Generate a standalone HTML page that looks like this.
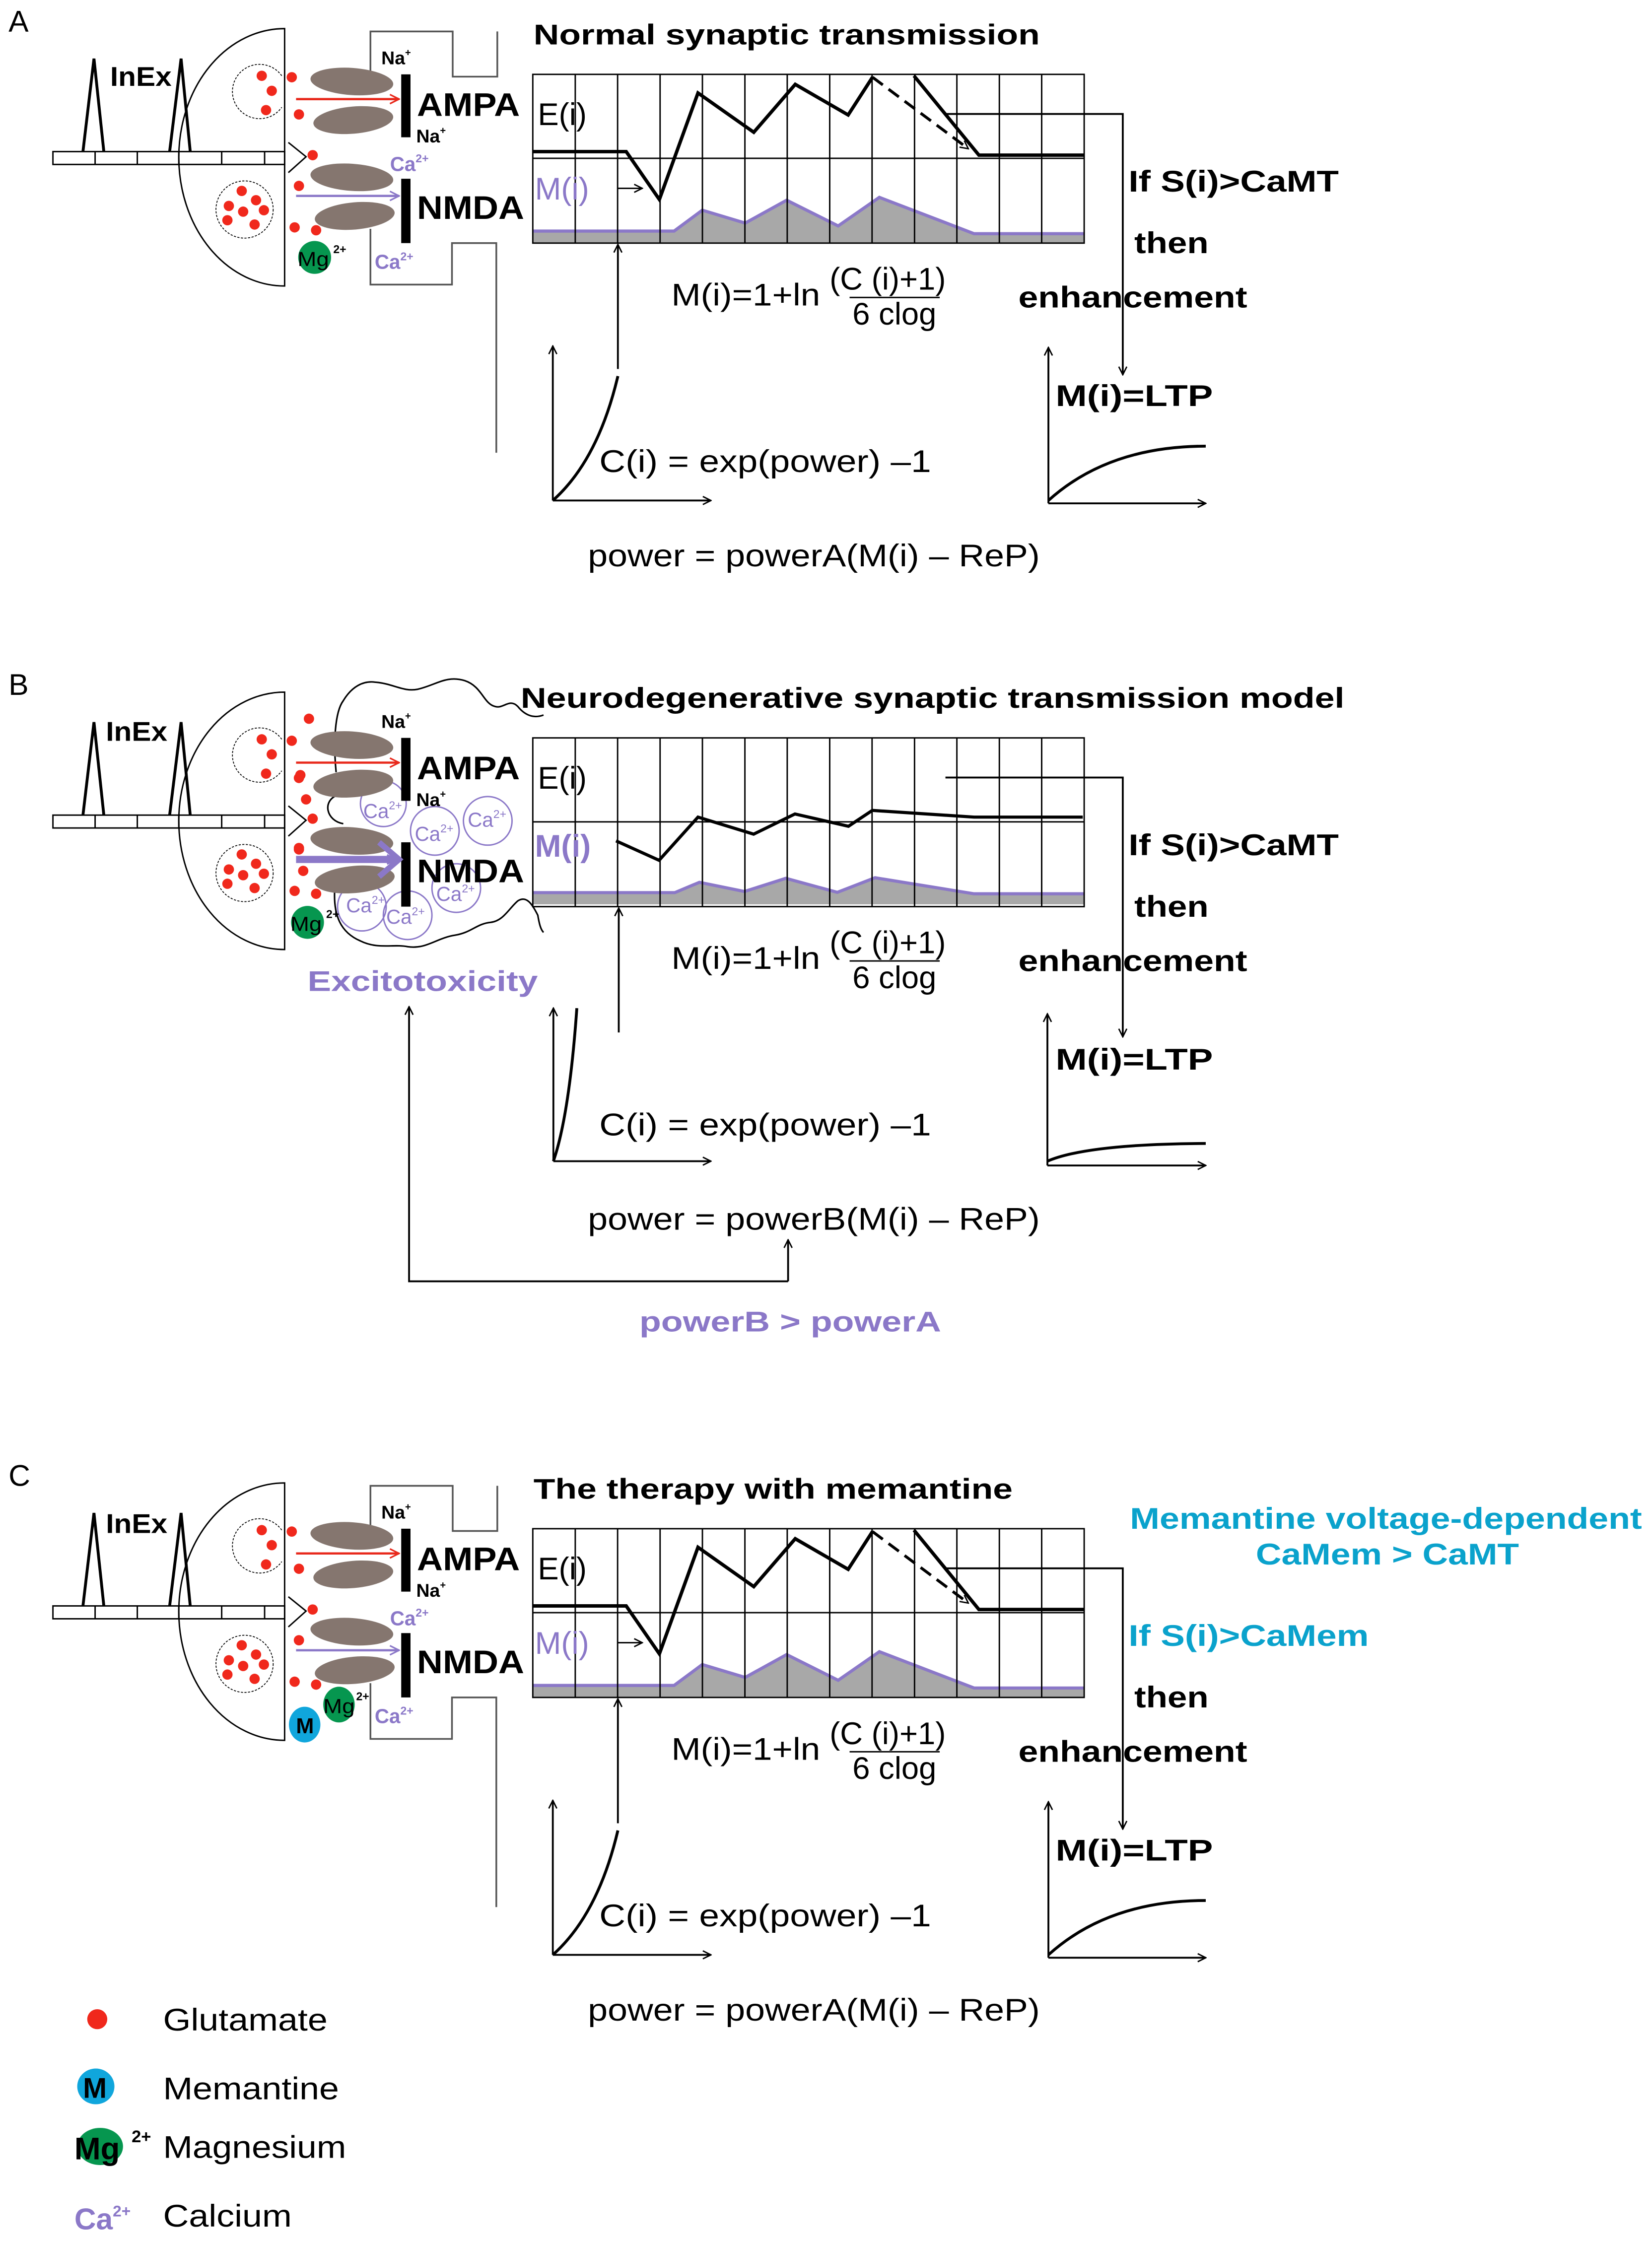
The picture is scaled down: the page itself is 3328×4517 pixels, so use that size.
<!DOCTYPE html>
<html><head><meta charset="utf-8"><style>
html,body{margin:0;padding:0;background:#fff}
svg{display:block}
text{font-family:"Liberation Sans",Arial,sans-serif}
.b{font-weight:bold}
</style></head><body>
<svg width="3328" height="4517" viewBox="0 0 1155 1567.8" preserveAspectRatio="none" xmlns="http://www.w3.org/2000/svg">
<defs>
<marker id="ar" viewBox="0 0 10 10" refX="9" refY="5" markerWidth="7" markerHeight="7" markerUnits="userSpaceOnUse" orient="auto"><path d="M1,1 L9,5 L1,9" fill="none" stroke="#000" stroke-width="1.4"/></marker>
<marker id="arR" viewBox="0 0 10 10" refX="9" refY="5" markerWidth="8" markerHeight="8" markerUnits="userSpaceOnUse" orient="auto"><path d="M1,1 L9,5 L1,9" fill="none" stroke="#e8291c" stroke-width="1.4"/></marker>
<marker id="arP" viewBox="0 0 10 10" refX="9" refY="5" markerWidth="8" markerHeight="8" markerUnits="userSpaceOnUse" orient="auto"><path d="M1,1 L9,5 L1,9" fill="none" stroke="#8b78c8" stroke-width="1.4"/></marker>

<g id="pre">
 <!-- spikes -->
 <path d="M58,106 L65.7,41 L72.6,106 M118.6,106 L126.6,41 L133,106" fill="none" stroke="#000" stroke-width="2"/>
 <!-- axon bar -->
 <rect x="37" y="106" width="162" height="9" fill="#fff" stroke="#000" stroke-width="1"/>
 <path d="M66.5,106V115 M96,106V115 M125,106V115 M155,106V115 M185,106V115" stroke="#000" stroke-width="1"/>
 <path d="M201.6,99.6 L214,109.6 L201.6,120.7" fill="none" stroke="#000" stroke-width="1"/>
 <!-- bouton -->
 <path d="M199,20 A74,90 0 0 0 199,200 Z" fill="none" stroke="#000" stroke-width="1"/>
 <!-- vesicles -->
 <path d="M197,53 A19,19 0 1 0 197,75" fill="none" stroke="#000" stroke-width="0.6" stroke-dasharray="1.5,1"/>
 <circle cx="171" cy="146.5" r="20" fill="none" stroke="#000" stroke-width="0.6" stroke-dasharray="1.5,1"/>
 <g fill="#f0281c">
  <circle cx="183" cy="53" r="3.6"/><circle cx="190" cy="63.5" r="3.6"/><circle cx="186" cy="77" r="3.6"/>
  <circle cx="204" cy="54" r="3.6"/><circle cx="209" cy="80" r="3.6"/>
  <circle cx="169" cy="133.5" r="3.6"/><circle cx="179" cy="140" r="3.6"/><circle cx="160" cy="144" r="3.6"/><circle cx="184.5" cy="147" r="3.6"/><circle cx="170" cy="148" r="3.6"/><circle cx="159" cy="154" r="3.6"/><circle cx="178" cy="157" r="3.6"/>
  <circle cx="218.6" cy="108.5" r="3.6"/><circle cx="209" cy="130" r="3.6"/><circle cx="206" cy="159" r="3.6"/><circle cx="221" cy="161" r="3.6"/>
 </g>
</g>
<g id="rec">
 <g fill="#85766f">
  <ellipse cx="246" cy="57" rx="29" ry="9.5" transform="rotate(4 246 57)"/>
  <ellipse cx="247" cy="84" rx="28" ry="9.5" transform="rotate(-5 247 84)"/>
  <ellipse cx="246" cy="124" rx="29" ry="9.5" transform="rotate(4 246 124)"/>
  <ellipse cx="248" cy="151" rx="28" ry="9.5" transform="rotate(-5 248 151)"/>
 </g>
 <rect x="280.5" y="52" width="6.5" height="44" fill="#000"/>
 <rect x="280.5" y="125" width="6.5" height="45" fill="#000"/>
</g>
<path id="box" d="M259,51 V22 H316.5 V53.6 H347.7 V22 M259,160 V199 H316 V170 H347 V316.6" fill="none" stroke="#555" stroke-width="1.2"/>
<g id="grid">
 <rect x="372.5" y="52" width="385.5" height="118" fill="none" stroke="#000" stroke-width="1"/>
 <path d="M402.2,52V170 M431.8,52V170 M461.5,52V170 M491.1,52V170 M520.8,52V170 M550.4,52V170 M580.1,52V170 M609.7,52V170 M639.4,52V170 M669,52V170 M698.7,52V170 M728.3,52V170" stroke="#000" stroke-width="1"/>
 <line x1="372.5" y1="110.7" x2="758" y2="110.7" stroke="#000" stroke-width="1"/>
</g>
<g id="axesL">
 <line x1="386.5" y1="350" x2="386.5" y2="242" stroke="#000" stroke-width="1.3" marker-end="url(#ar)"/>
 <line x1="386.5" y1="350" x2="497" y2="350" stroke="#000" stroke-width="1.3" marker-end="url(#ar)"/>
</g>
<g id="axesR">
 <line x1="733" y1="352" x2="733" y2="243" stroke="#000" stroke-width="1.3" marker-end="url(#ar)"/>
 <line x1="733" y1="352" x2="843" y2="352" stroke="#000" stroke-width="1.3" marker-end="url(#ar)"/>
</g>
</defs>

<!-- ================= PANEL A ================= -->
<text x="6" y="22" font-size="21">A</text>
<use href="#box"/>
<use href="#pre"/>
<use href="#rec"/>
<line x1="207" y1="69.3" x2="279" y2="69.3" stroke="#e8291c" stroke-width="1.6" marker-end="url(#arR)"/>
<line x1="207" y1="137" x2="279" y2="137" stroke="#8b78c8" stroke-width="1.6" marker-end="url(#arP)"/>
<text x="77" y="60" font-size="19" class="b" textLength="43" lengthAdjust="spacingAndGlyphs">InEx</text>
<text x="266.6" y="45" font-size="13" class="b">Na<tspan font-size="7" dy="-6">+</tspan></text>
<text x="291" y="99.6" font-size="13" class="b">Na<tspan font-size="7" dy="-6">+</tspan></text>
<text x="272.7" y="119.5" font-size="14" class="b" fill="#8b78c8">Ca<tspan font-size="8" dy="-6">2+</tspan></text>
<text x="262" y="188" font-size="14" class="b" fill="#8b78c8">Ca<tspan font-size="8" dy="-6">2+</tspan></text>
<text x="291.5" y="81" font-size="23" class="b" textLength="72" lengthAdjust="spacingAndGlyphs">AMPA</text>
<text x="291.5" y="153" font-size="23" class="b" textLength="75" lengthAdjust="spacingAndGlyphs">NMDA</text>
<circle cx="220" cy="180" r="11.5" fill="#06964f"/>
<text x="208" y="186" font-size="14" fill="#000" textLength="22" lengthAdjust="spacingAndGlyphs">Mg</text>
<text x="233" y="177" font-size="8" class="b">2+</text>

<text x="373" y="31" font-size="20" class="b" textLength="354" lengthAdjust="spacingAndGlyphs">Normal synaptic transmission</text>
<path d="M372.5,161.6 L471.3,161.6 L491,147 L521,156 L550,140 L586,158 L614.8,138 L681,163.4 L758,163.4 L758,170 L372.5,170 Z" fill="#a8a8a8"/>
<polyline points="372.5,161.6 471.3,161.6 491,147 521,156 550,140 586,158 614.8,138 681,163.4 758,163.4" fill="none" stroke="#8b78c8" stroke-width="2.2"/>
<use href="#grid"/>
<text x="376" y="87.5" font-size="22">E(i)</text>
<text x="374" y="139.5" font-size="22" fill="#8b78c8">M(i)</text>
<line x1="432" y1="131.7" x2="449" y2="131.7" stroke="#000" stroke-width="1" marker-end="url(#ar)"/>
<polyline points="372.5,106 437.8,106 461,139.5 488,65 527,92.5 556,59 593,80.4 610,54" fill="none" stroke="#000" stroke-width="2.4"/>
<line x1="610" y1="54" x2="677" y2="104" stroke="#000" stroke-width="2" stroke-dasharray="9,5" marker-end="url(#ar)"/>
<polyline points="639,53 684.4,108.5 758,108.5" fill="none" stroke="#000" stroke-width="2.4"/>
<polyline points="661,79.7 785,79.7 785,262" fill="none" stroke="#000" stroke-width="1.3" marker-end="url(#ar)"/>
<line x1="432" y1="258" x2="432" y2="171" stroke="#000" stroke-width="1.3" marker-end="url(#ar)"/>
<text x="469.4" y="213.6" font-size="22" textLength="104" lengthAdjust="spacingAndGlyphs">M(i)=1+ln</text>
<text x="580" y="202.6" font-size="22">(C (i)+1)</text>
<line x1="594" y1="208" x2="657" y2="208" stroke="#000" stroke-width="1"/>
<text x="596" y="227" font-size="22">6 clog</text>
<use href="#axesL"/>
<path d="M386.5,350 Q418,322 432,263" fill="none" stroke="#000" stroke-width="2"/>
<text x="419" y="330" font-size="22" textLength="232" lengthAdjust="spacingAndGlyphs">C(i) = exp(power) –1</text>
<text x="411" y="396" font-size="22" textLength="316" lengthAdjust="spacingAndGlyphs">power = powerA(M(i) – ReP)</text>
<text x="789" y="134" font-size="21" class="b" textLength="147" lengthAdjust="spacingAndGlyphs">If S(i)&gt;CaMT</text>
<text x="793" y="177" font-size="21" class="b" textLength="52" lengthAdjust="spacingAndGlyphs">then</text>
<text x="712" y="215" font-size="21" class="b" textLength="160" lengthAdjust="spacingAndGlyphs">enhancement</text>
<text x="738" y="284" font-size="21" class="b" textLength="110" lengthAdjust="spacingAndGlyphs">M(i)=LTP</text>
<use href="#axesR"/>
<path d="M733,350 Q775,312 843,312" fill="none" stroke="#000" stroke-width="2"/>

<!-- ================= PANEL B ================= -->
<text x="6" y="486" font-size="21">B</text>
<g transform="translate(0,464)">
 <use href="#pre"/>
 <g fill="#f0281c">
  <circle cx="216" cy="38.6" r="3.6"/><circle cx="210" cy="78" r="3.6"/><circle cx="214" cy="95" r="3.6"/>
  <circle cx="209" cy="129" r="3.6"/><circle cx="212" cy="145" r="3.6"/>
 </g>
</g>
<!-- cloud -->
<path d="M235,540 C233,520 234,498 240,490 C246,480 254,476 262,477 C275,478 282,484 292,482 C305,479 312,472 325,476 C337,480 338,492 346,494 C352,496 356,488 362,494 C366,499 372,503 380,500
M236,556 C225,560 228,574 240,576
M234,622 C233,640 238,652 252,658 C264,664 275,660 285,662 C298,664 305,656 318,654 C330,652 333,646 343,645 C352,644 356,635 362,630 C368,626 372,632 376,640 C377,646 378,650 380,652"
 fill="none" stroke="#000" stroke-width="1.1"/>
<g fill="none" stroke="#8b78c8" stroke-width="1">
 <circle cx="268" cy="562" r="16"/><circle cx="304" cy="581" r="17"/><circle cx="341" cy="574" r="17"/>
 <circle cx="319" cy="621" r="17"/><circle cx="253" cy="634" r="17"/><circle cx="285" cy="640" r="17"/>
</g>
<g font-size="14" fill="#8b78c8">
 <text x="254" y="572">Ca<tspan font-size="8" dy="-6">2+</tspan></text>
 <text x="290" y="588">Ca<tspan font-size="8" dy="-6">2+</tspan></text>
 <text x="327" y="578">Ca<tspan font-size="8" dy="-6">2+</tspan></text>
 <text x="305" y="630">Ca<tspan font-size="8" dy="-6">2+</tspan></text>
 <text x="242" y="638">Ca<tspan font-size="8" dy="-6">2+</tspan></text>
 <text x="270" y="646">Ca<tspan font-size="8" dy="-6">2+</tspan></text>
</g>
<g transform="translate(0,464)"><use href="#rec"/></g>
<line x1="207" y1="533.3" x2="279" y2="533.3" stroke="#e8291c" stroke-width="1.6" marker-end="url(#arR)"/>
<line x1="207" y1="601" x2="277" y2="601" stroke="#8b78c8" stroke-width="5" marker-end="url(#arP)"/>
<path d="M265,589 L279,601 L265,613" fill="none" stroke="#8b78c8" stroke-width="4"/>
<text x="74" y="518" font-size="19" class="b" textLength="43" lengthAdjust="spacingAndGlyphs">InEx</text>
<text x="266.6" y="509" font-size="13" class="b">Na<tspan font-size="7" dy="-6">+</tspan></text>
<text x="291" y="563.6" font-size="13" class="b">Na<tspan font-size="7" dy="-6">+</tspan></text>
<text x="291.5" y="545" font-size="23" class="b" textLength="72" lengthAdjust="spacingAndGlyphs">AMPA</text>
<text x="291.5" y="617" font-size="23" class="b" textLength="75" lengthAdjust="spacingAndGlyphs">NMDA</text>
<circle cx="215" cy="645" r="11.5" fill="#06964f"/>
<text x="203" y="651" font-size="14" textLength="22" lengthAdjust="spacingAndGlyphs">Mg</text>
<text x="228" y="642" font-size="8" class="b">2+</text>
<text x="215" y="693" font-size="20" class="b" fill="#8b78c8" textLength="161" lengthAdjust="spacingAndGlyphs">Excitotoxicity</text>

<text x="364" y="495" font-size="20" class="b" textLength="576" lengthAdjust="spacingAndGlyphs">Neurodegenerative synaptic transmission model</text>
<path d="M372.5,624.2 L471.8,624.2 L489,617 L520.5,623.4 L549.4,614.2 L585.4,624 L611.8,613.8 L681,625 L758,625 L758,632.4 L372.5,632.4 Z" fill="#a8a8a8"/>
<polyline points="372.5,624.2 471.8,624.2 489,617 520.5,623.4 549.4,614.2 585.4,624 611.8,613.8 681,625 758,625" fill="none" stroke="#8b78c8" stroke-width="2.2"/>
<g transform="translate(0,464)"><use href="#grid"/></g>
<text x="376" y="551.5" font-size="22">E(i)</text>
<text x="374" y="599" font-size="22" class="b" fill="#8b78c8">M(i)</text>
<polyline points="430.7,588 460.8,601.6 488,571.4 526.9,583.3 555.8,569.2 593.2,577.8 609.9,566.7 681,571.4 757,571.4" fill="none" stroke="#000" stroke-width="2.2"/>
<polyline points="661,543.7 785,543.7 785,725" fill="none" stroke="#000" stroke-width="1.3" marker-end="url(#ar)"/>
<line x1="432.6" y1="722" x2="432.6" y2="635" stroke="#000" stroke-width="1.3" marker-end="url(#ar)"/>
<text x="469.4" y="677.6" font-size="22" textLength="104" lengthAdjust="spacingAndGlyphs">M(i)=1+ln</text>
<text x="580" y="666.6" font-size="22">(C (i)+1)</text>
<line x1="594" y1="672" x2="657" y2="672" stroke="#000" stroke-width="1"/>
<text x="596" y="691" font-size="22">6 clog</text>
<line x1="386.9" y1="812" x2="386.9" y2="705" stroke="#000" stroke-width="1.3" marker-end="url(#ar)"/>
<line x1="386.9" y1="812" x2="497" y2="812" stroke="#000" stroke-width="1.3" marker-end="url(#ar)"/>
<path d="M386.9,812 Q398,780 403.3,705" fill="none" stroke="#000" stroke-width="2"/>
<text x="419" y="794" font-size="22" textLength="232" lengthAdjust="spacingAndGlyphs">C(i) = exp(power) –1</text>
<text x="411" y="860" font-size="22" textLength="316" lengthAdjust="spacingAndGlyphs">power = powerB(M(i) – ReP)</text>
<polyline points="551,896 286,896 286,704" fill="none" stroke="#000" stroke-width="1.3" marker-end="url(#ar)"/>
<line x1="551" y1="896" x2="551" y2="867" stroke="#000" stroke-width="1.3" marker-end="url(#ar)"/>
<text x="447" y="931" font-size="20" class="b" fill="#8b78c8" textLength="211" lengthAdjust="spacingAndGlyphs">powerB &gt; powerA</text>
<text x="789" y="598" font-size="21" class="b" textLength="147" lengthAdjust="spacingAndGlyphs">If S(i)&gt;CaMT</text>
<text x="793" y="641" font-size="21" class="b" textLength="52" lengthAdjust="spacingAndGlyphs">then</text>
<text x="712" y="679" font-size="21" class="b" textLength="160" lengthAdjust="spacingAndGlyphs">enhancement</text>
<text x="738" y="748" font-size="21" class="b" textLength="110" lengthAdjust="spacingAndGlyphs">M(i)=LTP</text>
<line x1="732.3" y1="815" x2="732.3" y2="709" stroke="#000" stroke-width="1.3" marker-end="url(#ar)"/>
<line x1="732.3" y1="815" x2="843" y2="815" stroke="#000" stroke-width="1.3" marker-end="url(#ar)"/>
<path d="M732.3,812 Q760,800 843,799.6" fill="none" stroke="#000" stroke-width="2"/>

<!-- ================= PANEL C ================= -->
<text x="6" y="1039" font-size="21">C</text>
<g transform="translate(0,1017)">
 <use href="#box"/>
 <use href="#pre"/>
 <use href="#rec"/>
 <line x1="207" y1="69.3" x2="279" y2="69.3" stroke="#e8291c" stroke-width="1.6" marker-end="url(#arR)"/>
 <line x1="207" y1="137" x2="279" y2="137" stroke="#8b78c8" stroke-width="1.6" marker-end="url(#arP)"/>
</g>
<text x="74" y="1072" font-size="19" class="b" textLength="43" lengthAdjust="spacingAndGlyphs">InEx</text>
<text x="266.6" y="1062" font-size="13" class="b">Na<tspan font-size="7" dy="-6">+</tspan></text>
<text x="291" y="1116.6" font-size="13" class="b">Na<tspan font-size="7" dy="-6">+</tspan></text>
<text x="272.7" y="1136.5" font-size="14" class="b" fill="#8b78c8">Ca<tspan font-size="8" dy="-6">2+</tspan></text>
<text x="262" y="1205" font-size="14" class="b" fill="#8b78c8">Ca<tspan font-size="8" dy="-6">2+</tspan></text>
<text x="291.5" y="1098" font-size="23" class="b" textLength="72" lengthAdjust="spacingAndGlyphs">AMPA</text>
<text x="291.5" y="1170" font-size="23" class="b" textLength="75" lengthAdjust="spacingAndGlyphs">NMDA</text>
<ellipse cx="237" cy="1192" rx="11" ry="12.5" fill="#06964f"/>
<text x="226" y="1198" font-size="14" textLength="22" lengthAdjust="spacingAndGlyphs">Mg</text>
<text x="249" y="1189" font-size="8" class="b">2+</text>
<ellipse cx="213" cy="1206" rx="11" ry="12.5" fill="#10a6dc"/>
<text x="207" y="1212" font-size="15" class="b">M</text>

<text x="373" y="1048" font-size="20" class="b" textLength="335" lengthAdjust="spacingAndGlyphs">The therapy with memantine</text>
<path d="M372.5,1178.6 L471.3,1178.6 L491,1164 L521,1173 L550,1157 L586,1175 L614.8,1155 L681,1180.4 L758,1180.4 L758,1187 L372.5,1187 Z" fill="#a8a8a8"/>
<polyline points="372.5,1178.6 471.3,1178.6 491,1164 521,1173 550,1157 586,1175 614.8,1155 681,1180.4 758,1180.4" fill="none" stroke="#8b78c8" stroke-width="2.2"/>
<g transform="translate(0,1017)"><use href="#grid"/></g>
<text x="376" y="1104.5" font-size="22">E(i)</text>
<text x="374" y="1156.5" font-size="22" fill="#8b78c8">M(i)</text>
<line x1="432" y1="1148.7" x2="449" y2="1148.7" stroke="#000" stroke-width="1" marker-end="url(#ar)"/>
<polyline points="372.5,1123 437.8,1123 461,1156.5 488,1082 527,1109.5 556,1076 593,1097.4 610,1071" fill="none" stroke="#000" stroke-width="2.4"/>
<line x1="610" y1="1071" x2="677" y2="1121" stroke="#000" stroke-width="2" stroke-dasharray="9,5" marker-end="url(#ar)"/>
<polyline points="639,1070 684.4,1125.5 758,1125.5" fill="none" stroke="#000" stroke-width="2.4"/>
<polyline points="661,1096.7 785,1096.7 785,1279" fill="none" stroke="#000" stroke-width="1.3" marker-end="url(#ar)"/>
<line x1="432" y1="1275" x2="432" y2="1188" stroke="#000" stroke-width="1.3" marker-end="url(#ar)"/>
<text x="469.4" y="1230.6" font-size="22" textLength="104" lengthAdjust="spacingAndGlyphs">M(i)=1+ln</text>
<text x="580" y="1219.6" font-size="22">(C (i)+1)</text>
<line x1="594" y1="1225" x2="657" y2="1225" stroke="#000" stroke-width="1"/>
<text x="596" y="1244" font-size="22">6 clog</text>
<g transform="translate(0,1017)"><use href="#axesL"/><use href="#axesR"/></g>
<path d="M386.5,1367 Q418,1339 432,1280" fill="none" stroke="#000" stroke-width="2"/>
<text x="419" y="1347" font-size="22" textLength="232" lengthAdjust="spacingAndGlyphs">C(i) = exp(power) –1</text>
<text x="411" y="1413" font-size="22" textLength="316" lengthAdjust="spacingAndGlyphs">power = powerA(M(i) – ReP)</text>
<text x="790" y="1069" font-size="21" class="b" fill="#0aa2cc" textLength="358" lengthAdjust="spacingAndGlyphs">Memantine voltage-dependent</text>
<text x="878" y="1094" font-size="21" class="b" fill="#0aa2cc" textLength="184" lengthAdjust="spacingAndGlyphs">CaMem &gt; CaMT</text>
<text x="789" y="1151" font-size="21" class="b" fill="#0aa2cc" textLength="168" lengthAdjust="spacingAndGlyphs">If S(i)&gt;CaMem</text>
<text x="793" y="1194" font-size="21" class="b" textLength="52" lengthAdjust="spacingAndGlyphs">then</text>
<text x="712" y="1232" font-size="21" class="b" textLength="160" lengthAdjust="spacingAndGlyphs">enhancement</text>
<text x="738" y="1301" font-size="21" class="b" textLength="110" lengthAdjust="spacingAndGlyphs">M(i)=LTP</text>
<path d="M733,1367 Q775,1329 843,1329" fill="none" stroke="#000" stroke-width="2"/>

<!-- legend -->
<circle cx="68" cy="1412" r="7" fill="#f0281c"/>
<text x="114" y="1420" font-size="22" textLength="115" lengthAdjust="spacingAndGlyphs">Glutamate</text>
<ellipse cx="67" cy="1459" rx="13" ry="12.5" fill="#10a6dc"/>
<text x="58" y="1467" font-size="20" class="b">M</text>
<text x="114" y="1468" font-size="22" textLength="123" lengthAdjust="spacingAndGlyphs">Memantine</text>
<ellipse cx="70" cy="1501" rx="16" ry="13" fill="#06964f"/>
<text x="52" y="1510" font-size="22" class="b">Mg</text>
<text x="92" y="1498" font-size="12" class="b">2+</text>
<text x="114" y="1509" font-size="22" textLength="128" lengthAdjust="spacingAndGlyphs">Magnesium</text>
<text x="52" y="1559" font-size="21" class="b" fill="#8b78c8">Ca<tspan font-size="11" dy="-9">2+</tspan></text>
<text x="114" y="1557" font-size="22" textLength="90" lengthAdjust="spacingAndGlyphs">Calcium</text>
</svg>
</body></html>
